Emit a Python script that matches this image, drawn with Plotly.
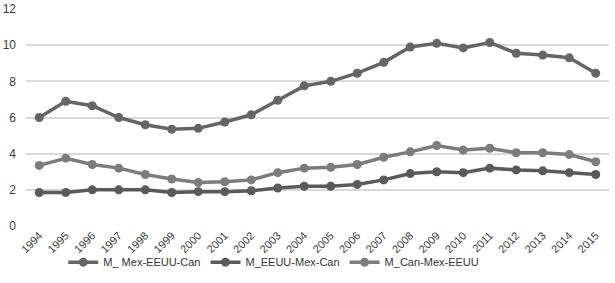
import plotly.graph_objects as go

years = [str(y) for y in range(1994, 2016)]
mex_eeuu_can = [6.0, 6.9, 6.65, 6.0, 5.6, 5.35, 5.4, 5.75, 6.15, 6.95, 7.75, 8.0, 8.45, 9.05, 9.9, 10.1, 9.85, 10.15, 9.55, 9.45, 9.3, 8.45]
eeuu_mex_can = [1.85, 1.85, 2.0, 2.0, 2.0, 1.85, 1.9, 1.9, 1.95, 2.1, 2.2, 2.2, 2.3, 2.55, 2.9, 3.0, 2.95, 3.2, 3.1, 3.05, 2.95, 2.85]
can_mex_eeuu = [3.35, 3.75, 3.4, 3.2, 2.85, 2.6, 2.4, 2.45, 2.55, 2.95, 3.2, 3.25, 3.4, 3.8, 4.1, 4.45, 4.2, 4.3, 4.05, 4.05, 3.95, 3.55]
names = ["M_ Mex-EEUU-Can", "M_EEUU-Mex-Can", "M_Can-Mex-EEUU"]
colors = ["#656565", "#5a5a5a", "#7c7c7c"]

fig = go.Figure()
for name, vals, c in zip(names, [mex_eeuu_can, eeuu_mex_can, can_mex_eeuu], colors):
    fig.add_trace(go.Scatter(x=years, y=vals, name=name, mode="lines+markers",
                             line=dict(color=c, width=3.5),
                             marker=dict(color=c, size=9)))

fig.update_layout(
    width=615, height=283,
    margin=dict(l=26, r=6, t=9, b=57),
    paper_bgcolor="white", plot_bgcolor="white",
    font=dict(family="Liberation Sans, Arial, sans-serif", size=11, color="#3a3a3a"),
    showlegend=True,
    legend=dict(orientation="h", x=0.425, xanchor="center",
                yref="container", y=0.125, yanchor="top",
                font=dict(size=11, color="#333333"), itemwidth=30,
                tracegroupgap=0, bgcolor="rgba(0,0,0,0)"),
    xaxis=dict(type="category", range=[-0.5, 21.5], showgrid=False, zeroline=False,
               tickangle=-45, ticks="", showline=False, automargin=False,
               tickfont=dict(size=11)),
    yaxis=dict(range=[0, 12], dtick=2, showgrid=True, gridcolor="#d9d9d9", gridwidth=1.5,
               zeroline=False, ticks="", showline=False, automargin=False,
               tickfont=dict(size=12), ticklabelstandoff=9),
)
fig.write_html("out.html", config={"displayModeBar": False},
               post_script="document.body.style.margin='0';")
